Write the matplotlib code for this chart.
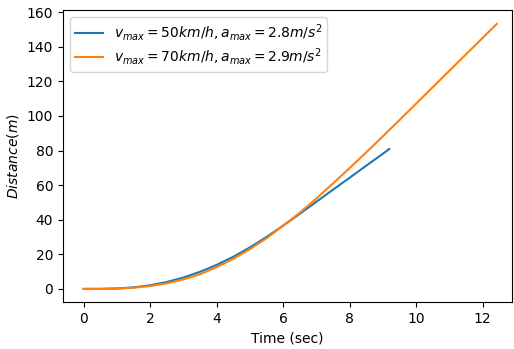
import matplotlib
matplotlib.use('Agg')
import matplotlib.pyplot as plt

# Distance vs time for two speed / acceleration limits
t_50 = [0, 0.5, 1.0, 1.5, 2.0, 2.5, 3.0, 3.5, 4.0, 4.5, 5.0, 5.5, 6.0, 6.5, 6.74,
        7.0, 7.5, 8.0, 8.5, 9.0, 9.19]
d_50 = [0, 0.03, 0.26, 0.88, 2.09, 3.99, 6.59, 9.89, 13.89, 18.59, 23.99, 30.05,
        36.6, 43.43, 46.8, 50.4, 57.4, 64.3, 71.3, 78.2, 80.9]

t_70 = [0, 0.5, 1.0, 1.5, 2.0, 2.5, 3.0, 3.5, 4.0, 4.5, 5.0, 5.5, 6.0, 6.5, 7.0,
        7.5, 8.0, 8.5, 9.0, 9.5, 10.0, 10.5, 11.0, 11.5, 12.0, 12.42]
d_70 = [0, 0.03, 0.21, 0.7, 1.65, 3.23, 5.5, 8.5, 12.6, 17.4, 23.0, 29.3, 36.6,
        44.0, 52.3, 61.0, 69.9, 79.0, 88.3, 97.7, 107.2, 116.7, 126.2, 135.7,
        145.2, 153.2]

labels = ['$v_{max}=50km/h, a_{max}=2.8m/s^2$',
          '$v_{max}=70km/h, a_{max}=2.9m/s^2$']

fig = plt.figure(figsize=(5.14, 3.49), dpi=100)
ax = fig.add_axes([63 / 514, 0.134, (512 - 63) / 514, 0.837])
ax.plot(t_50, d_50, label=labels[0])
ax.plot(t_70, d_70, label=labels[1])
ax.set_xlim(-0.62, 12.88)
ax.set_ylim(-7.7, 161.2)
ax.set_xlabel('Time (sec)')
ax.set_ylabel('$Distance(m)$')
ax.legend(loc='upper left', labelspacing=0.25, borderpad=0.35)
fig.savefig('out.png', dpi=100)
